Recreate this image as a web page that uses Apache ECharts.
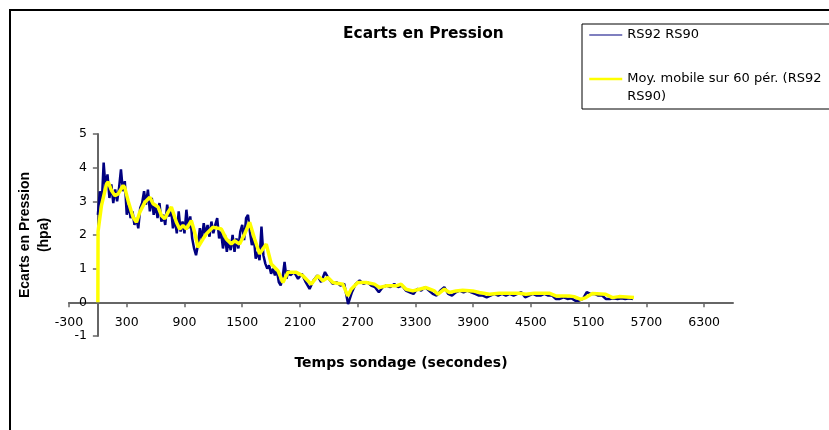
<!DOCTYPE html>
<html>
<head>
<meta charset="utf-8">
<script src="https://cdn.jsdelivr.net/npm/echarts@6/dist/echarts.min.js"></script>
<style>html,body{margin:0;padding:0;background:#fff}#c{width:829px;height:430px}</style>
</head>
<body>
<div id="c"></div>
<script>
// ---- data ----
var rawName = 'RS92 RS90';
var maName = 'Moy. mobile sur 60 pér. (RS92 RS90)';

// raw series: first part sampled every 20 s from 0 s, second part every 40 s from 2040 s
var rawStartA = 0, rawStepA = 20;
var rawValuesA = [2.6,3.3,2.9,4.15,3.4,3.8,3.1,3.5,2.95,3.35,3.0,3.4,3.95,3.3,3.6,2.6,2.9,2.5,2.7,2.3,
  2.5,2.2,2.8,2.95,3.3,2.9,3.35,2.7,3.1,2.6,2.9,2.5,2.95,2.4,2.6,2.3,2.9,2.55,2.8,2.2,
  2.5,2.05,2.7,2.1,2.4,2.05,2.75,2.2,2.55,1.9,1.6,1.4,1.7,2.2,1.85,2.35,2.0,2.3,1.95,2.4,
  2.05,2.3,2.5,1.9,2.1,1.6,2.0,1.5,1.85,1.55,2.0,1.5,1.9,1.6,2.1,2.3,1.85,2.5,2.6,2.1,
  1.7,1.95,1.3,1.5,1.25,2.25,1.4,1.15,1.0,1.1,0.85,1.0,0.8,0.95,0.6,0.5,0.75,1.2,0.7,0.95,0.8];
var rawStartB = 2040, rawStepB = 40;
var rawValuesB = [0.9,0.7,0.85,0.6,0.4,0.65,0.8,0.6,0.9,0.7,0.55,0.6,0.5,0.55,-0.05,0.3,0.55,0.65,0.55,0.6,
  0.5,0.45,0.3,0.45,0.5,0.45,0.55,0.45,0.5,0.35,0.3,0.25,0.4,0.35,0.45,0.35,0.25,0.2,0.35,0.45,
  0.25,0.2,0.3,0.35,0.3,0.35,0.3,0.25,0.2,0.2,0.15,0.2,0.25,0.2,0.25,0.2,0.25,0.2,0.25,0.3,
  0.15,0.2,0.25,0.2,0.2,0.25,0.2,0.2,0.1,0.1,0.15,0.1,0.12,0.05,0.05,0.1,0.3,0.25,0.25,0.2,
  0.2,0.1,0.1,0.12,0.1,0.12,0.1,0.12,0.1];

// moving average (yellow)
var maTimes = [0,2,10,38,90,107,142,176,211,263,280,314,366,401,436,488,540,574,626,660,695,730,764,816,850,885,920,971,1006,1040,
  1092,1126,1196,1283,1335,1387,1421,1473,1525,1577,1629,1681,1750,1802,1871,1923,1975,2062,2131,2217,2286,2338,2390,2442,2545,2597,2632,2701,2788,2874,
  2926,2996,3100,3151,3203,3272,3341,3410,3497,3532,3601,3653,3722,3791,3895,3964,4068,4171,4379,4448,4534,4690,4759,4897,4949,5018,5070,5139,5277,5346,5415,5571];
var maValues = [0,2.1,2.28,2.88,3.52,3.58,3.32,3.17,3.22,3.47,3.4,3.02,2.53,2.38,2.68,2.97,3.12,2.93,2.83,2.58,2.48,2.68,2.83,2.38,2.18,2.28,2.18,2.43,2.08,1.63,
  1.88,2.03,2.23,2.18,1.88,1.73,1.83,1.73,2.03,2.38,1.88,1.44,1.73,1.14,0.94,0.59,0.89,0.89,0.79,0.54,0.79,0.64,0.74,0.59,0.54,0.19,0.39,0.59,0.59,0.54,
  0.44,0.49,0.49,0.54,0.39,0.34,0.39,0.44,0.34,0.24,0.39,0.29,0.34,0.36,0.34,0.29,0.24,0.27,0.27,0.24,0.27,0.27,0.19,0.19,0.17,0.09,0.14,0.26,0.24,0.14,0.17,0.14];

var xTicks = [-300,300,900,1500,2100,2700,3300,3900,4500,5100,5700,6300];
var yTicks = [-1,0,1,2,3,4,5];

// ---- build ----
var rawData = [];
rawValuesA.forEach(function(v,i){ rawData.push([rawStartA + i*rawStepA, v]); });
rawValuesB.forEach(function(v,i){ rawData.push([rawStartB + i*rawStepB, v]); });
var maData = maTimes.map(function(t,i){ return [t, maValues[i]]; });

var chart = echarts.init(document.getElementById('c'), null, {renderer:'canvas'});
var tickFont = {fontFamily:'DejaVu Sans', fontSize:12.5, color:'#000'};
var noSym = {color:'rgba(0,0,0,0)', borderColor:'rgba(0,0,0,0)', borderWidth:0};
chart.setOption({
  animation:false,
  backgroundColor:'#fff',
  graphic:[{type:'rect', shape:{x:10,y:10,width:900,height:500}, style:{fill:null, stroke:'#000', lineWidth:2}, silent:true}],
  title:{text:'Ecarts en Pression', left:343, top:26, padding:0,
    textStyle:{fontFamily:'DejaVu Sans', fontWeight:'bold', fontSize:15.4, color:'#000'}},
  legend:{orient:'vertical', left:582, top:24, padding:[2,30,3,6], itemGap:8, itemWidth:33, itemHeight:14,
    borderColor:'#000', borderWidth:1, backgroundColor:'#fff',
    textStyle:{fontFamily:'DejaVu Sans', fontSize:13, lineHeight:18, color:'#000'},
    formatter:function(n){ return n === maName ? '\nMoy. mobile sur 60 pér. (RS92\nRS90)' : n; },
    data:[{name:rawName, lineStyle:{width:1.2, color:'#000080'}, itemStyle:noSym},
          {name:maName, lineStyle:{width:2.5, color:'#ffff00'}, itemStyle:noSym}]},
  grid:{left:69, right:96, top:134, bottom:94, containLabel:false, outerBoundsMode:'none'},
  xAxis:{type:'value', min:-300, max:6600,
    name:'Temps sondage (secondes)', nameLocation:'middle', nameGap:20, nameMoveOverlap:false,
    nameTextStyle:{fontFamily:'DejaVu Sans', fontWeight:'bold', fontSize:14, color:'#000'},
    axisLine:{onZero:true, lineStyle:{color:'#666', width:2}},
    axisTick:{show:true, length:5, customValues:xTicks, lineStyle:{color:'#666', width:1.5}},
    axisLabel:Object.assign({margin:-20, customValues:xTicks, formatter:function(v){ return String(v); }}, tickFont),
    splitLine:{show:false}},
  yAxis:{type:'value', min:-1, max:5, interval:1,
    name:'Ecarts en Pression\n(hpa)', nameLocation:'middle', nameGap:15, nameMoveOverlap:false,
    nameTextStyle:{fontFamily:'Liberation Sans', fontWeight:'bold', fontSize:14, lineHeight:19, color:'#000'},
    axisLine:{show:true, onZero:true, lineStyle:{color:'#666', width:2}},
    axisTick:{show:true, length:5, lineStyle:{color:'#666', width:1.5}},
    axisLabel:Object.assign({margin:-18, customValues:yTicks}, tickFont),
    splitLine:{show:false}},
  series:[
    {name:rawName, type:'line', data:rawData, showSymbol:false, symbol:'none',
      lineStyle:{color:'#000080', width:2.5}, itemStyle:{color:'#000080'}, z:2},
    {name:maName, type:'line', data:maData, showSymbol:false, symbol:'none',
      lineStyle:{color:'#ffff00', width:3.5}, itemStyle:{color:'#ffff00'}, z:3}
  ]
});
</script>
</body>
</html>
